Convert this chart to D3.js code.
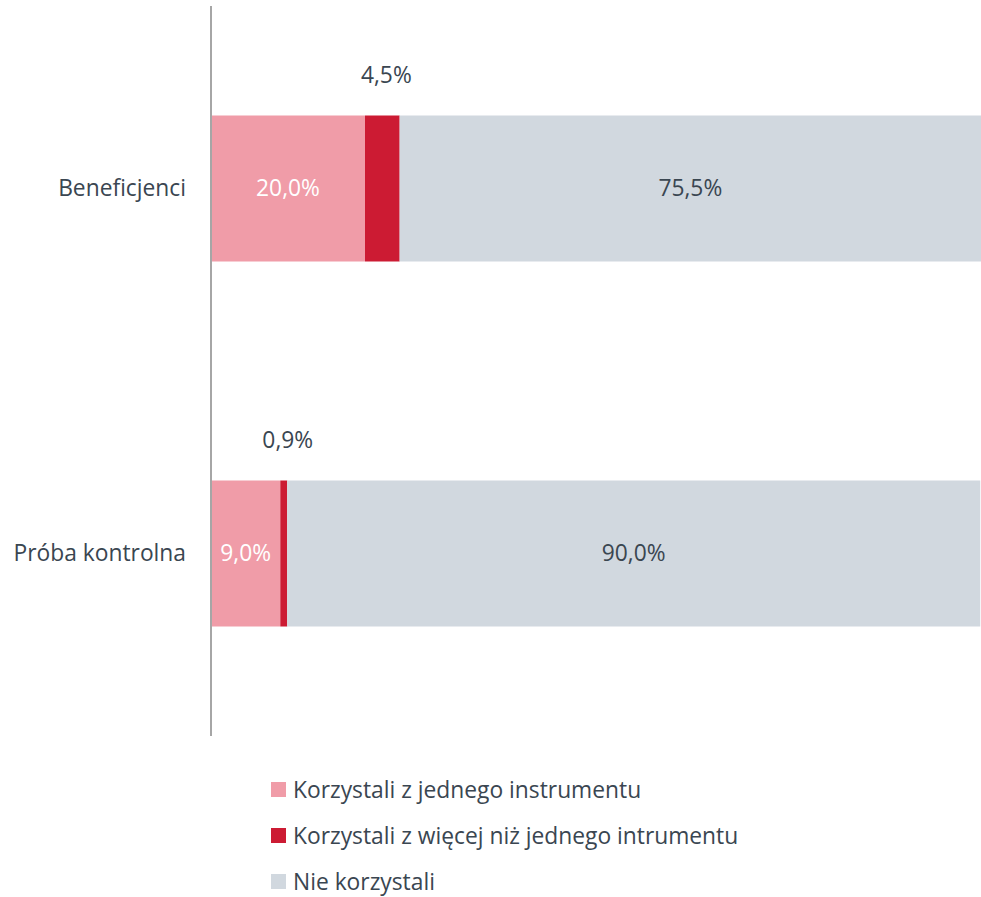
<!DOCTYPE html>
<html>
<head>
<meta charset="utf-8">
<script src="https://cdn.jsdelivr.net/npm/d3@7"></script>
<style>
  body { margin: 0; background: #fff; }
  text { font-family: "Open Sans", "Noto Sans", sans-serif; }
</style>
</head>
<body>
<div id="chart"></div>
<script>
// data
const categories = ["Beneficjenci", "Próba kontrolna"];
const seriesNames = ["Korzystali z jednego instrumentu", "Korzystali z więcej niż jednego intrumentu", "Nie korzystali"];
const oneInstrument = [20.0, 9.0];
const moreInstruments = [4.5, 0.9];
const notUsed = [75.5, 90.0];

const colors = ["#f09ca8", "#cc1b33", "#d1d8df"];
const textColor = "#3a4651";
const fontSize = "22.8px";

const width = 981, height = 897;

const svg = d3.select("#chart")
    .append("svg")
    .attr("width", width)
    .attr("height", height);

// scales
const x = d3.scaleLinear()
    .domain([0, 100])
    .range([211, 981]);

const y = d3.scaleBand()
    .domain(categories)
    .range([6, 736])
    .paddingInner(0.6)
    .paddingOuter(0.3);

// build stacked rows
const rows = categories.map((c, i) => ({
    cat: c,
    values: [oneInstrument[i], moreInstruments[i], notUsed[i]]
}));
const stack = d3.stack()
    .keys([0, 1, 2])
    .value((d, k) => d.values[k]);
const stacked = stack(rows);

// bars
svg.selectAll("g.layer")
    .data(stacked)
    .join("g")
    .attr("class", "layer")
    .attr("fill", d => colors[d.key])
    .selectAll("rect")
    .data(d => d)
    .join("rect")
    .attr("x", d => x(d[0]))
    .attr("y", d => y(d.data.cat))
    .attr("width", d => x(d[1]) - x(d[0]))
    .attr("height", y.bandwidth());

// value labels
const fmt = v => v.toFixed(1).replace(".", ",") + "%";
stacked.forEach(layer => {
    layer.forEach(d => {
        const v = d[1] - d[0];
        const cx = (x(d[0]) + x(d[1])) / 2;
        const inside = layer.key !== 1;
        svg.append("text")
            .attr("x", inside ? cx : cx + 4)
            .attr("y", inside ? y(d.data.cat) + y.bandwidth() / 2 : y(d.data.cat) - 40)
            .attr("dy", "0.35em")
            .attr("text-anchor", "middle")
            .style("font-size", fontSize)
            .attr("fill", layer.key === 0 ? "#fff" : textColor)
            .text(fmt(v));
    });
});

// y axis (just the line + labels)
svg.append("line")
    .attr("x1", 211).attr("x2", 211)
    .attr("y1", 6).attr("y2", 736)
    .attr("stroke", "#a6a6a6")
    .attr("stroke-width", 2);

svg.selectAll("text.cat")
    .data(categories)
    .join("text")
    .attr("class", "cat")
    .attr("x", 186)
    .attr("y", d => y(d) + y.bandwidth() / 2)
    .attr("dy", "0.35em")
    .attr("text-anchor", "end")
    .style("font-size", fontSize)
    .attr("fill", textColor)
    .text(d => d);

// legend
const legend = svg.selectAll("g.legend")
    .data(seriesNames)
    .join("g")
    .attr("class", "legend")
    .attr("transform", (d, i) => `translate(271, ${782 + i * 46})`);

legend.append("rect")
    .attr("width", 15)
    .attr("height", 15)
    .attr("fill", (d, i) => colors[i]);

legend.append("text")
    .attr("x", 22)
    .attr("y", 8)
    .attr("dy", "0.35em")
    .style("font-size", fontSize)
    .attr("fill", textColor)
    .text(d => d);
</script>
</body>
</html>
